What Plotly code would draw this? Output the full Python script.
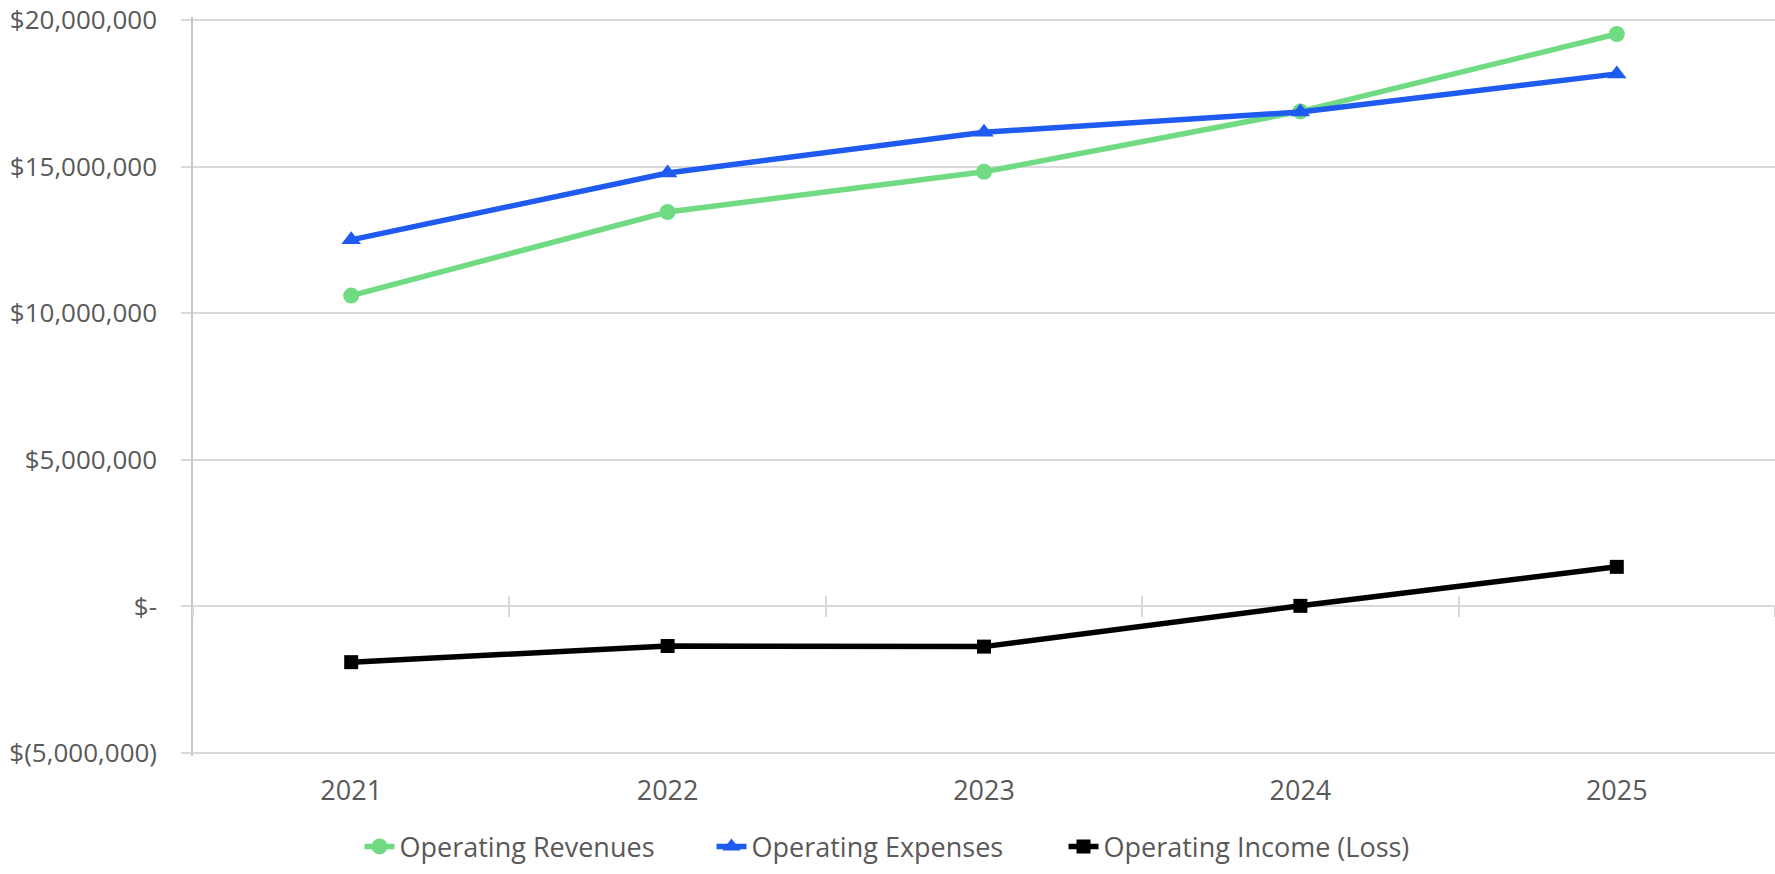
import plotly.graph_objects as go

years = ["2021", "2022", "2023", "2024", "2025"]
operating_revenues = [10_600_000, 13_450_000, 14_820_000, 16_880_000, 19_520_000]
operating_expenses = [12_500_000, 14_780_000, 16_170_000, 16_860_000, 18_160_000]
operating_income = [-1_900_000, -1_350_000, -1_370_000, 20_000, 1_350_000]

y_tickvals = [-5_000_000, 0, 5_000_000, 10_000_000, 15_000_000, 20_000_000]
y_ticktext = ["$(5,000,000)", "$-", "$5,000,000", "$10,000,000", "$15,000,000", "$20,000,000"]

FONT = "Open Sans"
TXT = "#595959"
GRID = "#D9D9D9"

fig = go.Figure()
fig.add_trace(go.Scatter(
    x=years, y=operating_revenues, name="Operating Revenues", mode="lines+markers",
    line=dict(color="#70DB83", width=5.5), marker=dict(symbol="circle", size=16, color="#70DB83"),
))
fig.add_trace(go.Scatter(
    x=years, y=operating_expenses, name="Operating Expenses", mode="lines+markers",
    line=dict(color="#1F5BF0", width=5.5), marker=dict(symbol="triangle-up", size=17, color="#1F5BF0"),
))
fig.add_trace(go.Scatter(
    x=years, y=operating_income, name="Operating Income (Loss)", mode="lines+markers",
    line=dict(color="#000000", width=5.5), marker=dict(symbol="square", size=14, color="#000000"),
))

# empty helper traces so the two overlay axes (cross tick marks on the zero line) get drawn
for ax in ("x2", "x3"):
    fig.add_trace(go.Scatter(x=years, y=[None] * len(years), xaxis=ax, yaxis="y",
                             mode="lines", showlegend=False, hoverinfo="skip"))

y_pad = 100_000
y_lo, y_hi = y_tickvals[0] - y_pad, y_tickvals[-1] + y_pad
zero_pos = (0 - y_lo) / (y_hi - y_lo)
x_range = [-0.5, 4.5]

common_cross = dict(
    overlaying="x", anchor="free", position=zero_pos, type="category",
    categoryorder="array", categoryarray=years, range=x_range,
    tickson="boundaries", showticklabels=False, showgrid=False, showline=False,
    ticklen=10, tickwidth=1.5, tickcolor=GRID, fixedrange=True, automargin=False,
)

fig.update_layout(
    width=1775, height=874,
    margin=dict(l=193, r=0, t=17, b=118),
    paper_bgcolor="white", plot_bgcolor="white",
    font=dict(family=FONT, size=27, color=TXT),
    showlegend=True,
    legend=dict(
        orientation="h", xref="container", yref="container",
        x=0.5, xanchor="center", y=0.031, yanchor="middle",
        font=dict(family=FONT, size=27, color=TXT),
        entrywidth=307, entrywidthmode="pixels",
        itemsizing="trace", tracegroupgap=0,
    ),
    xaxis=dict(
        type="category", categoryorder="array", categoryarray=years,
        range=x_range,
        showgrid=False, showline=False, ticks="", zeroline=False, automargin=False,
        ticklabelstandoff=16, tickfont=dict(family=FONT, size=27, color=TXT),
    ),
    xaxis2=dict(ticks="outside", **common_cross),
    xaxis3=dict(ticks="inside", **common_cross),
    yaxis=dict(
        range=[y_lo, y_hi],
        tickmode="array", tickvals=y_tickvals, ticktext=y_ticktext,
        showgrid=True, gridcolor=GRID, gridwidth=1.5,
        zeroline=False, automargin=False, ticklabeloverflow="allow",
        showline=True, linecolor="#C9C9C9", linewidth=1.5,
        ticks="outside", ticklen=10, tickwidth=1.5, tickcolor=GRID,
        ticklabelstandoff=19,
        tickfont=dict(family=FONT, size=26, color=TXT),
    ),
)

fig.write_html("out.html", config={"displayModeBar": False},
               post_script="document.body.style.margin='0';")
